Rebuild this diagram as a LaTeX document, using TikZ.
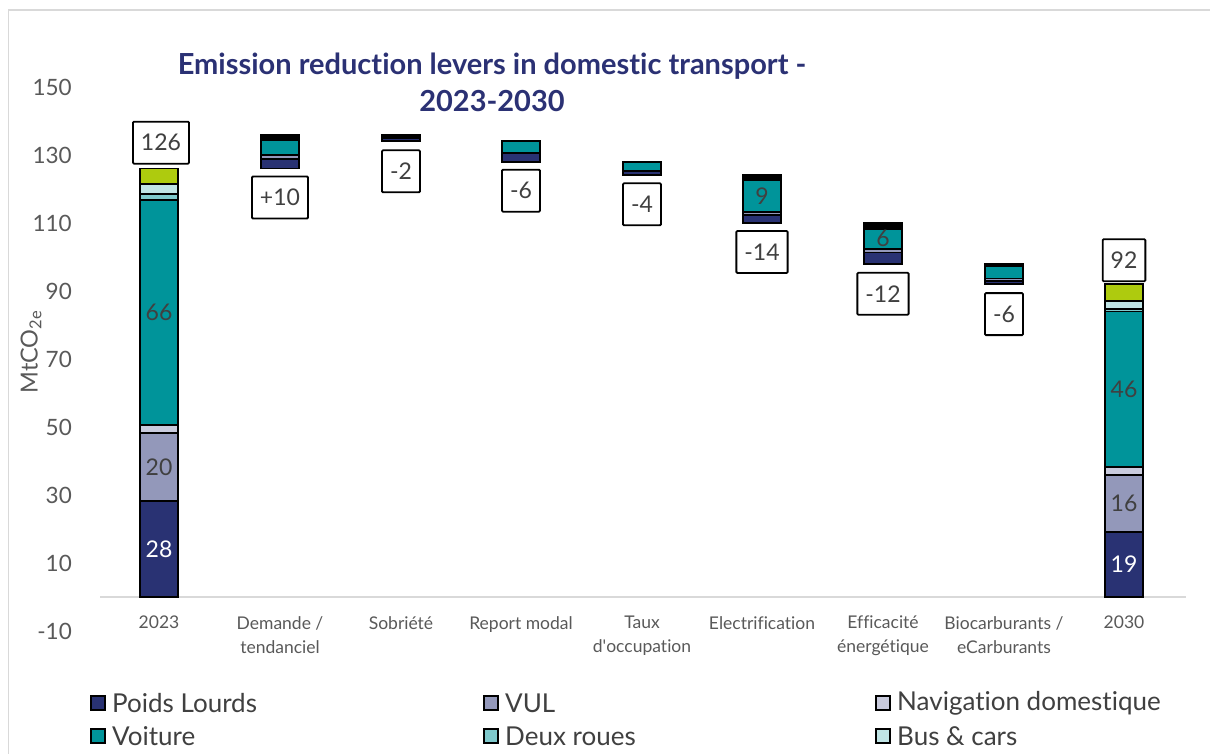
\documentclass[tikz,border=0pt]{standalone}
\usepackage{fontspec}
\setmainfont{Lato}[Ligatures={NoCommon}]
\definecolor{pl}{RGB}{41,50,115}
\definecolor{vul}{RGB}{147,152,186}
\definecolor{nav}{RGB}{201,203,221}
\definecolor{voit}{RGB}{0,148,154}
\definecolor{deux}{RGB}{127,201,204}
\definecolor{bus}{RGB}{192,228,229}
\definecolor{lime}{RGB}{174,203,14}
\definecolor{titlec}{RGB}{43,49,116}
\definecolor{txt}{RGB}{89,89,89}
\definecolor{lab}{RGB}{64,64,64}
\definecolor{gridc}{RGB}{217,217,217}
\newcommand{\seg}[4]{\draw[segstyle, fill=#4] ({#1-19},{597-3.4*(#2)}) rectangle ({#1+19},{597-3.4*(#3)});}
\begin{document}
\begin{tikzpicture}[x=1pt,y=-1pt,
  segstyle/.style={draw=black,line width=1.8pt},
  valbox/.style={draw=black,fill=white,line width=1.8pt,rounded corners=1pt,minimum height=42pt,inner xsep=8pt,inner ysep=0pt,text=lab,font=\fontsize{23}{26}\selectfont},
  inlab/.style={text=lab,font=\fontsize{23}{26}\selectfont,inner sep=0pt},
  tick/.style={text=txt,anchor=east,font=\fontsize{22.5}{24}\selectfont,inner sep=0pt},
  xlab/.style={text=txt,align=center,font=\fontsize{17.5}{24}\selectfont,inner sep=0pt,anchor=north},
  legsq/.style={draw=black,line width=1.5pt,minimum size=14pt,inner sep=0pt},
  legtxt/.style={text=lab,anchor=west,font=\fontsize{26}{28}\selectfont,inner sep=0pt},
  ttl/.style={text=titlec,font=\bfseries\fontsize{29}{37}\selectfont,align=center,inner sep=0pt}]
\useasboundingbox (0,0) rectangle (1210,754);
\fill[white] (0,0) rectangle (1210,754);
% frame
\draw[gridc,line width=1.5pt] (8.5,754) -- (8.5,10) -- (1210,10);
% axis
\draw[gridc,line width=1.5pt] (100,597) -- (1186,597);
% ticks
\foreach \v in {150,130,110,90,70,50,30,10,-10}
  \node[tick] (t\v) at (72,{597-3.4*\v}) {\v};
\node[rotate=90,text=txt,font=\fontsize{23.5}{26}\selectfont,inner sep=0pt] (ytitle) at (31,352) {MtCO\textsubscript{2e}};
% title
\node[ttl] (title) at (492,82) {Emission reduction levers in domestic transport -\\2023-2030};
% 2023 bar
\seg{159}{0}{28.2}{pl}
\seg{159}{28.2}{48.2}{vul}
\seg{159}{48.2}{50.6}{nav}
\seg{159}{50.6}{116.7}{voit}
\seg{159}{116.7}{118.5}{deux}
\seg{159}{118.5}{121.5}{bus}
\seg{159}{121.5}{126}{lime}
\node[inlab,text=white] (v28) at (159,{597-3.4*14.1}) {28};
\node[inlab] (v20) at (159,{597-3.4*38.2}) {20};
\node[inlab] (v66) at (159,{597-3.4*83.6}) {66};
\node[valbox,anchor=south] (l2023) at (161,{597-3.4*126-4}) {126};
% Demande
\seg{280}{126}{128.8}{pl}
\seg{280}{128.8}{129.9}{vul}
\seg{280}{129.9}{134.5}{voit}
\seg{280}{134.5}{136}{black}
\node[valbox,anchor=north] (ldem) at (280,{597-3.4*126+7}) {+10};
% Sobriete
\seg{401}{134}{136}{black}
\draw[pl,line width=1pt] (383,{597-3.4*134.6}) -- (419,{597-3.4*134.6});
\node[valbox,anchor=north] (lsob) at (401,{597-3.4*134+8}) {-2};
% Report modal
\seg{521}{128}{130.6}{pl}
\seg{521}{130.6}{134}{voit}
\node[valbox,anchor=north] (lrep) at (521,{597-3.4*128+7}) {-6};
% Taux
\seg{642}{124}{125.2}{pl}
\seg{642}{125.2}{128}{voit}
\node[valbox,anchor=north] (ltau) at (642,{597-3.4*124+7}) {-4};
% Electrification
\seg{762}{110}{112.3}{pl}
\seg{762}{112.3}{113.3}{vul}
\seg{762}{113.3}{122.6}{voit}
\seg{762}{122.6}{124}{black}
\node[inlab] (v9) at (762,196) {9};
\node[valbox,anchor=north] (lele) at (762,{597-3.4*110+7}) {-14};
% Efficacite
\seg{883}{98}{101.3}{pl}
\seg{883}{101.3}{102.4}{vul}
\seg{883}{102.4}{108.2}{voit}
\seg{883}{108.2}{110}{black}
\node[inlab] (v6) at (883,238) {6};
\node[valbox,anchor=north] (leff) at (883,{597-3.4*98+8}) {-12};
% Biocarburants
\seg{1004}{92}{93}{pl}
\seg{1004}{93}{93.7}{vul}
\seg{1004}{93.7}{97.3}{voit}
\seg{1004}{97.3}{98}{black}
\node[valbox,anchor=north] (lbio) at (1004,{597-3.4*92+8}) {-6};
% 2030 bar
\seg{1124}{0}{19.2}{pl}
\seg{1124}{19.2}{35.8}{vul}
\seg{1124}{35.8}{38.2}{nav}
\seg{1124}{38.2}{84}{voit}
\seg{1124}{84}{84.6}{deux}
\seg{1124}{84.6}{87}{bus}
\seg{1124}{87}{92}{lime}
\node[inlab,text=white] (v19) at (1124,{597-3.4*9.6}) {19};
\node[inlab] (v16) at (1124,{597-3.4*27.5}) {16};
\node[inlab] (v46) at (1124,{597-3.4*61}) {46};
\node[valbox,anchor=south] (l2030) at (1124,{597-3.4*92-2}) {92};
% x labels
\node[xlab] (x1) at (159,616) {2023};
\node[xlab] (x2) at (280,616) {Demande /\\tendanciel};
\node[xlab] (x3) at (401,616) {Sobriété};
\node[xlab] (x4) at (521,616) {Report modal};
\node[xlab] (x5) at (642,616) {Taux\\d\textquotesingle occupation};
\node[xlab] (x6) at (762,616) {Electrification};
\node[xlab] (x7) at (883,616) {Efficacité\\énergétique};
\node[xlab] (x8) at (1004,616) {Biocarburants /\\eCarburants};
\node[xlab] (x9) at (1124,616) {2030};
% legend
\node[legsq,fill=pl] (s1) at (98,703) {};
\node[legtxt] (g1) at (112,703) {Poids Lourds};
\node[legsq,fill=vul] (s2) at (491,703) {};
\node[legtxt] (g2) at (505,703) {VUL};
\node[legsq,fill=nav] (s3) at (883,703) {};
\node[legtxt] (g3) at (897,703) {Navigation domestique};
\node[legsq,fill=voit] (s4) at (98,736) {};
\node[legtxt] (g4) at (112,736) {Voiture};
\node[legsq,fill=deux] (s5) at (491,736) {};
\node[legtxt] (g5) at (505,736) {Deux roues};
\node[legsq,fill=bus] (s6) at (883,736) {};
\node[legtxt] (g6) at (897,736) {Bus \& cars};
\end{tikzpicture}
\end{document}
